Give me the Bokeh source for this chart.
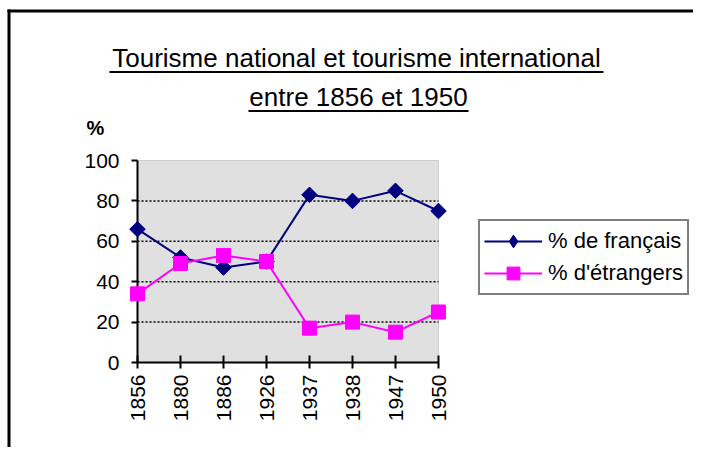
import math
from bokeh.plotting import figure
from bokeh.models import (FixedTicker, Legend, LegendItem, Label, BoxAnnotation,
                          LinearAxis)
from bokeh.embed import file_html
from bokeh.resources import INLINE

# ---- data ----
years = ["1856", "1880", "1886", "1926", "1937", "1938", "1947", "1950"]
pct_francais = [66, 52, 47, 50, 83, 80, 85, 75]
pct_etrangers = [34, 49, 53, 50, 17, 20, 15, 25]
y_ticks = [0, 20, 40, 60, 80, 100]
grid_levels = [20, 40, 60, 80]
title_lines = ["Tourisme national et tourisme international", "entre 1856 et 1950"]
series_names = ["% de français", "% d'étrangers"]

FONT = "Liberation Sans"
W, H = 693, 447
# plot area (gray box) in canvas pixels
FL, FR, FT, FB = 137, 438, 160, 362
BASE_SHIFT = 0.39  # svg text baseline correction (fraction of font size)

xs = list(range(len(years)))
nx = len(years) - 1
ymax = 100
px_per_x = (FR - FL) / nx
px_per_y = (FB - FT) / ymax
x_start = -FL / px_per_x
x_end = nx + (W - FR) / px_per_x
y_start = -(H - FB) / px_per_y
y_end = ymax + FT / px_per_y

def dx(cx):
    return (cx - FL) / px_per_x

def dy(cy):
    return (FB - cy) / px_per_y

p = figure(width=W, height=H, output_backend="svg", toolbar_location=None,
           x_range=(x_start, x_end), y_range=(y_start, y_end),
           x_axis_type=None, y_axis_type=None,
           min_border=0, min_border_left=0, min_border_right=0,
           min_border_top=0, min_border_bottom=0)
p.background_fill_color = "white"
p.border_fill_color = "white"
p.outline_line_color = None
p.xgrid.grid_line_color = None
p.ygrid.grid_line_color = None

# gray plot area
p.add_layout(BoxAnnotation(left=0, right=nx, bottom=0, top=ymax,
                           fill_color="#E0E0E0", fill_alpha=1,
                           line_color="#808080", line_width=1, level="image"))

# dotted horizontal grid lines
p.segment(x0=[0] * len(grid_levels), x1=[nx] * len(grid_levels),
          y0=grid_levels, y1=grid_levels, line_color="black",
          line_dash="2 2", line_width=1.5, level="underlay")

# axes at fixed locations
xaxis = LinearAxis(fixed_location=0, bounds=(0, nx))
xaxis.ticker = FixedTicker(ticks=xs)
xaxis.major_label_overrides = {i: y for i, y in enumerate(years)}
xaxis.major_label_orientation = math.pi / 2
yaxis = LinearAxis(fixed_location=0, bounds=(0, ymax))
yaxis.ticker = FixedTicker(ticks=y_ticks)
for ax in (xaxis, yaxis):
    ax.axis_line_color = "black"
    ax.axis_line_width = 2
    ax.major_tick_line_color = "black"
    ax.major_tick_line_width = 2
    ax.minor_tick_line_color = None
    ax.major_label_text_font = FONT
    ax.major_label_text_font_size = "21px"
    ax.major_label_text_color = "black"
xaxis.major_tick_in = 7
xaxis.major_tick_out = 6
xaxis.major_label_standoff = 6
yaxis.major_tick_in = 0
yaxis.major_tick_out = 6
yaxis.major_label_standoff = 12
p.add_layout(xaxis, "below")
p.add_layout(yaxis, "left")

# series
l1 = p.line(xs, pct_francais, line_color="#000080", line_width=2, level="annotation")
m1 = p.scatter(xs, pct_francais, marker="square", angle=math.pi / 4, size=11,
               fill_color="#000080", line_color="#000080", level="annotation")
l2 = p.line(xs, pct_etrangers, line_color="#FF00FF", line_width=2, level="annotation")
m2 = p.scatter(xs, pct_etrangers, marker="square", size=14,
               fill_color="#FF00FF", line_color="#FF00FF", level="annotation")
# legend-only diamond glyph for the first series (legend ignores marker angle)
m1_leg = p.scatter(xs, pct_francais, marker="diamond", size=16,
                   fill_color="#000080", line_color="#000080", visible=False)

legend = Legend(items=[LegendItem(label=series_names[0], renderers=[l1, m1_leg]),
                       LegendItem(label=series_names[1], renderers=[l2, m2])],
                location=(478, H - 295),
                orientation="vertical",
                label_text_font=FONT, label_text_font_size="22px",
                label_text_color="black",
                glyph_width=58, glyph_height=32, label_height=32,
                label_standoff=6, spacing=0, padding=4, margin=0,
                inactive_fill_alpha=0,
                border_line_color="black", border_line_width=2,
                background_fill_color="white", background_fill_alpha=1)
p.add_layout(legend)

# title (two underlined lines)
TS = 26
p.add_layout(Label(x=dx(356), y=dy(68 - BASE_SHIFT * TS), text=title_lines[0],
                   text_font=FONT, text_font_size=f"{TS}px", text_align="center",
                   text_baseline="alphabetic", text_color="black"))
p.add_layout(Label(x=dx(358), y=dy(107 - BASE_SHIFT * TS), text=title_lines[1],
                   text_font=FONT, text_font_size=f"{TS}px", text_align="center",
                   text_baseline="alphabetic", text_color="black"))
p.add_layout(BoxAnnotation(left=dx(109), right=dx(603), top=dy(70.5), bottom=dy(72.5),
                           fill_color="black", fill_alpha=1, line_color=None))
p.add_layout(BoxAnnotation(left=dx(248), right=dx(468), top=dy(109.5), bottom=dy(111.5),
                           fill_color="black", fill_alpha=1, line_color=None))
# y unit label
PS = 20
p.add_layout(Label(x=dx(86), y=dy(135 - BASE_SHIFT * PS), text="%", text_font=FONT,
                   text_font_size=f"{PS}px", text_font_style="bold",
                   text_align="left", text_baseline="alphabetic",
                   text_color="black"))
# outer frame (left and top edges)
p.add_layout(BoxAnnotation(left=dx(7), right=dx(10), top=dy(9), bottom=dy(H),
                           fill_color="black", fill_alpha=1, line_color=None))
p.add_layout(BoxAnnotation(left=dx(7), right=dx(W), top=dy(9), bottom=dy(12),
                           fill_color="black", fill_alpha=1, line_color=None))

open("out.html", "w").write(file_html(p, INLINE))
